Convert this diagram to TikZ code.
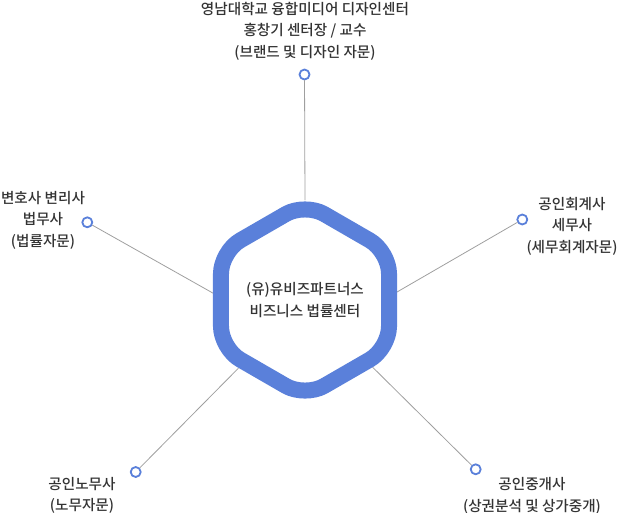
\documentclass[tikz,border=0pt]{standalone}
\usepackage{fontspec}
\setmainfont{Noto Sans CJK KR Medium}
\usepackage{pgf,tikz}
\usetikzlibrary{shapes.geometric}
\definecolor{hexblue}{RGB}{90,128,218}
\definecolor{txtgray}{RGB}{51,51,51}

\begin{document}
\begin{tikzpicture}[line cap=round,line join=round,x=1pt,y=-1pt,
  dot/.style={circle,draw=hexblue,line width=1.8pt,fill=white,minimum size=10pt,inner sep=0pt},
  spoke/.style={color=gray!75,line width=0.8pt},
  lbl/.style={align=center,text=txtgray,inner sep=0pt,font=\fontsize{14.6}{21.5}\selectfont}]
\useasboundingbox (0,0) rectangle (618,512);
% circles
\node[dot] (dtop) at (304.5,74.5) {};
\node[dot] (dlaw) at (87.3,222.3) {};
\node[dot] (dtax) at (522.3,219.5) {};
\node[dot] (dlab) at (135.7,472) {};
\node[dot] (dest) at (475.7,469.3) {};
% spoke ends
\coordinate (etop) at (305,200);
\coordinate (elaw) at (213.3,293.3);
\coordinate (etax) at (396.5,292.3);
\coordinate (elab) at (238.3,368.3);
\coordinate (eest) at (372.7,367.3);
\draw[spoke] (dtop) -- (etop);
\draw[spoke] (dlaw) -- (elaw);
\draw[spoke] (dtax) -- (etax);
\draw[spoke] (dlab) -- (elab);
\draw[spoke] (dest) -- (eest);
% hexagon
\node[regular polygon,regular polygon sides=6,shape border rotate=30,minimum size=194pt,
  draw=hexblue,line width=16pt,fill=white,rounded corners=22pt,inner sep=0pt,
  lbl] (hub) at (305,300) {(유)유비즈파트너스\\비즈니스 법률센터};
% labels
\node[lbl] (ttop) at (305,31) {영남대학교 융합미디어 디자인센터\\홍창기 센터장 / 교수\\(브랜드 및 디자인 자문)};
\node[lbl] (tlaw) at (43,220) {변호사 변리사\\법무사\\(법률자문)};
\node[lbl] (ttax) at (572,226) {공인회계사\\세무사\\(세무회계자문)};
\node[lbl] (tlab) at (82,495.5) {공인노무사\\(노무자문)};
\node[lbl] (test) at (532,496) {공인중개사\\(상권분석 및 상가중개)};
\end{tikzpicture}
\end{document}
